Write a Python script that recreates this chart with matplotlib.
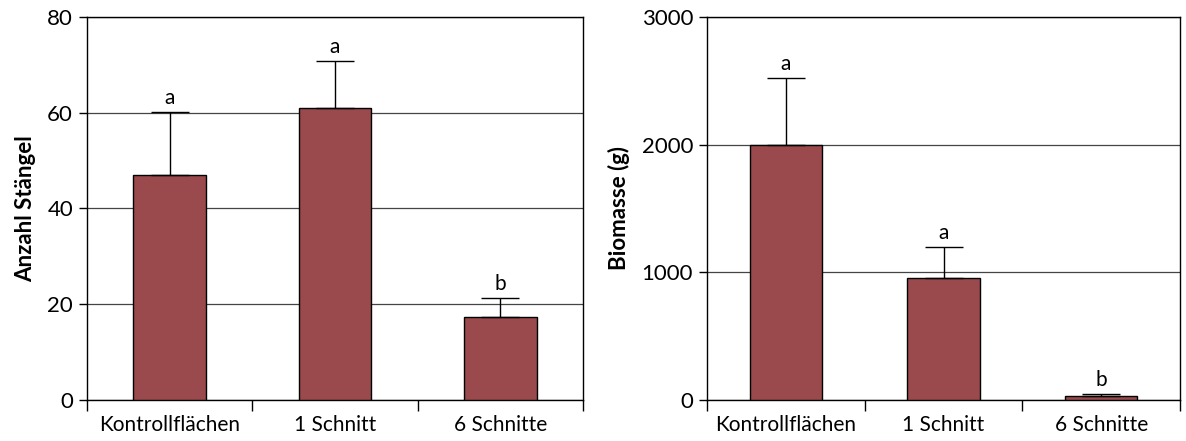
import numpy as np
import matplotlib
matplotlib.use("Agg")
import matplotlib.pyplot as plt

plt.rcParams["font.family"] = ["Lato", "DejaVu Sans"]

categories = ["Kontrollflächen", "1 Schnitt", "6 Schnitte"]

stems_mean = [47, 61, 17.3]
stems_err = [13.2, 9.8, 4.0]
stems_letters = ["a", "a", "b"]

biomass_mean = [2000, 955, 31]
biomass_err = [520, 240, 14]
biomass_letters = ["a", "a", "b"]

bar_color = "#9a4a4d"


def draw_panel(ax, means, errs, letters, ymax, step, ylabel, bar_width):
    x = np.arange(len(categories))
    ax.bar(x, means, width=bar_width, color=bar_color, edgecolor="black",
           linewidth=1.0, zorder=3)
    ax.errorbar(x, means, yerr=[[0] * len(errs), errs], fmt="none",
                ecolor="black", elinewidth=1.0, capsize=14, capthick=1.0,
                zorder=4)
    for xi, m, e, t in zip(x, means, errs, letters):
        ax.annotate(t, (xi, m + e), xytext=(0, 3), textcoords="offset points",
                    ha="center", va="bottom", fontsize=15)

    ax.set_xlim(-0.5, len(categories) - 0.5)
    ax.set_ylim(0, ymax)
    ax.set_yticks(np.arange(0, ymax + step, step))
    ax.yaxis.grid(True, color="#444444", linewidth=0.9, zorder=0)
    ax.set_axisbelow(True)

    # category labels centred, ticks on category boundaries
    ax.set_xticks(x)
    ax.set_xticklabels(categories, fontsize=15)
    ax.tick_params(axis="x", which="major", length=0, pad=11)
    ax.set_xticks(np.arange(-0.5, len(categories)), minor=True)
    ax.tick_params(axis="x", which="minor", length=8, width=1.0, direction="out")

    ax.tick_params(axis="y", length=6, width=1.0, direction="out", labelsize=16,
                   pad=4)
    ax.set_ylabel(ylabel, fontsize=16, fontweight="bold", labelpad=8)
    for s in ax.spines.values():
        s.set_linewidth(1.0)
        s.set_color("black")


fig = plt.figure(figsize=(11.86, 4.41), dpi=100)
ax1 = fig.add_axes([87 / 1186, 41 / 441, 496 / 1186, 383 / 441])
ax2 = fig.add_axes([707 / 1186, 41 / 441, 473 / 1186, 383 / 441])

draw_panel(ax1, stems_mean, stems_err, stems_letters, 80, 20,
           "Anzahl Stängel", 0.44)
draw_panel(ax2, biomass_mean, biomass_err, biomass_letters, 3000, 1000,
           "Biomasse (g)", 0.46)

fig.savefig("out.png", dpi=100)
plt.close(fig)
